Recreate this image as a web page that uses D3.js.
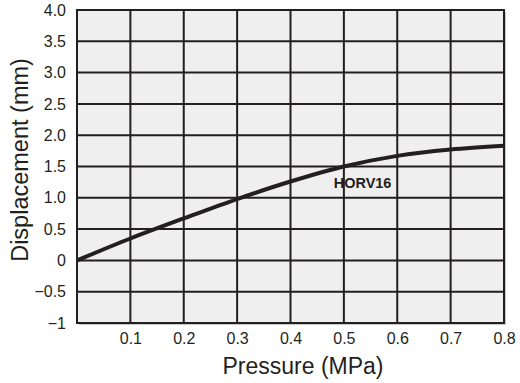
<!DOCTYPE html>
<html>
<head>
<meta charset="utf-8">
<script src="https://cdn.jsdelivr.net/npm/d3@7"></script>
<style>
  body { margin: 0; background: #fff; }
  svg text { font-family: "Liberation Sans", Arial, sans-serif; fill: #231f20; }
  .tick text { font-size: 16px; }
</style>
</head>
<body>
<svg id="chart" width="520" height="383"></svg>
<script>
const pressure = [0, 0.1, 0.2, 0.3, 0.4, 0.5, 0.6, 0.7, 0.8]
const displacement = [0, 0.35, 0.67, 0.98, 1.26, 1.5, 1.67, 1.77, 1.83]
const xTicks = [0.1, 0.2, 0.3, 0.4, 0.5, 0.6, 0.7, 0.8]
const yTicks = [-1, -0.5, 0, 0.5, 1, 1.5, 2, 2.5, 3, 3.5, 4]
const yTickLabels = ['\u22121', '\u22120.5', '0', '0.5', '1.0', '1.5', '2.0', '2.5', '3.0', '3.5', '4.0']
const seriesName = 'HORV16'

const margin = { top: 10, right: 16, bottom: 60, left: 77 }
const width = 520 - margin.left - margin.right
const height = 383 - margin.top - margin.bottom

const svg = d3.select('#chart')
const g = svg.append('g').attr('transform', `translate(${margin.left},${margin.top})`)

const x = d3.scaleLinear().domain([0, 0.8]).range([0, width])
const y = d3.scaleLinear().domain([-1, 4]).range([height, 0])

// drop shadow on right / bottom
g.append('rect')
  .attr('x', 2).attr('y', 2)
  .attr('width', width).attr('height', height)
  .attr('fill', '#c8c8c8')

g.append('rect')
  .attr('width', width).attr('height', height)
  .attr('fill', '#eeefee')

// grid
g.selectAll('.vgrid')
  .data(xTicks)
  .enter().append('line')
  .attr('x1', d => x(d)).attr('x2', d => x(d))
  .attr('y1', 0).attr('y2', height)
  .attr('stroke', '#231f20').attr('stroke-width', 2)

g.selectAll('.hgrid')
  .data(yTicks)
  .enter().append('line')
  .attr('x1', 0).attr('x2', width)
  .attr('y1', d => y(d)).attr('y2', d => y(d))
  .attr('stroke', '#231f20').attr('stroke-width', 2)

g.append('rect')
  .attr('width', width).attr('height', height)
  .attr('fill', 'none')
  .attr('stroke', '#231f20').attr('stroke-width', 2)

// axes (labels only)
const xAxis = g.append('g')
  .attr('transform', `translate(0,${height})`)
  .call(d3.axisBottom(x).tickValues(xTicks).tickSize(0).tickPadding(10).tickFormat(d3.format('.1f')))
xAxis.select('.domain').remove()

const yAxis = g.append('g')
  .call(d3.axisLeft(y).tickValues(yTicks).tickSize(0).tickPadding(11)
    .tickFormat((d, i) => yTickLabels[i]))
yAxis.select('.domain').remove()

// curve
const data = pressure.map((p, i) => ({ p: p, d: displacement[i] }))
const line = d3.line()
  .x(d => x(d.p))
  .y(d => y(d.d))
  .curve(d3.curveMonotoneX)

g.append('path')
  .datum(data)
  .attr('d', line)
  .attr('fill', 'none')
  .attr('stroke', '#231f20')
  .attr('stroke-width', 4)

g.append('text')
  .attr('x', x(0.535))
  .attr('y', y(1.15))
  .attr('text-anchor', 'middle')
  .attr('font-size', 14.5)
  .attr('font-weight', 'bold')
  .text(seriesName)

// axis titles
svg.append('text')
  .attr('x', 303)
  .attr('y', 374)
  .attr('text-anchor', 'middle')
  .attr('font-size', 23)
  .text('Pressure (MPa)')

svg.append('text')
  .attr('transform', 'translate(20,160) rotate(-90)')
  .attr('text-anchor', 'middle')
  .attr('dy', '0.35em')
  .attr('font-size', 23.5)
  .text('Displacement (mm)')
</script>
</body>
</html>
